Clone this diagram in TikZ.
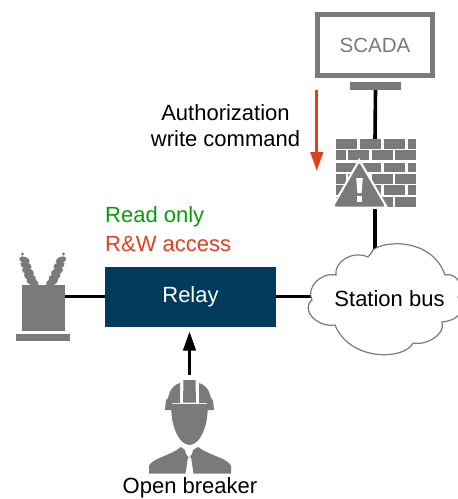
\documentclass[tikz,border=0pt]{standalone}
\usepackage{fontspec}
\setmainfont{Liberation Sans}
\definecolor{icon}{HTML}{7A7A7A}
\definecolor{relayblue}{HTML}{003A5D}
\definecolor{alert}{HTML}{E0401F}
\definecolor{okgreen}{HTML}{0A9A0A}
\usetikzlibrary{arrows.meta}
\tikzset{
 label/.style={font=\fontsize{22}{26}\selectfont,inner sep=0pt,anchor=center,align=center},
 wire/.style={line width=3.6pt,black},
 brick/.style={fill=icon,draw=none},
 iconbox/.style={fill=icon,draw=none,inner sep=0pt,minimum width=0,minimum height=0},
 spot/.style={inner sep=0pt,minimum size=0pt}
}
\newcommand{\brickrow}[3]{%
 \foreach \a/\b in {#1}{\fill[brick] (\a,#2) rectangle (\b,#3);}}
\begin{document}
\begin{tikzpicture}[x=1pt,y=-1pt]
\useasboundingbox (0,0) rectangle (458,499);
% wires under the icons
\coordinate (firetop) at (375,139);
\coordinate (firebot) at (375,206);
\coordinate (xfmrR) at (65,296.5);
\coordinate (cloudL) at (312,296.5);
\coordinate (cloudT) at (375,252);
\node[draw=none,fill=icon,inner sep=0pt,minimum width=51pt,minimum height=8pt] (stand) at (375.5,86) {};
\node[fill=relayblue,text=white,font=\fontsize{22}{26}\selectfont,inner sep=0pt,minimum width=171pt,minimum height=60pt] (relay) at (190.5,297) {Relay};
\draw[wire] (stand.south) -- (firetop);
\draw[wire] (firebot) -- (cloudT);
\draw[wire] (xfmrR) -- (relay.west|-xfmrR);
\draw[wire] (relay.east|-cloudL) -- (cloudL);
% SCADA
\node[draw=icon,line width=5pt,fill=white,text=icon,font=\fontsize{20.5}{24}\selectfont,inner sep=0pt,minimum width=115pt,minimum height=61pt] (scada) at (375,45) {SCADA};
% firewall
\brickrow{336/357,360/381,384/405,408/416}{139.3}{148.7}
\brickrow{336/346,348/369,372/393,395/416}{150}{160}
\brickrow{336/357,360/381,384/405,408/416}{162.7}{171.7}
\brickrow{336/346,348/369,372/393,395/416}{174}{184}
\brickrow{336/357,360/381,384/405,408/416}{185.3}{194.7}
\brickrow{336/346,348/369,372/393,395/416}{196.7}{206.7}
\fill[white] (359.3,158) -- (389,209) -- (330,209) -- cycle;
\fill[icon,rounded corners=2pt] (359.3,162.5) -- (385,206.5) -- (334,206.5) -- cycle;
\fill[white] (356.2,178) -- (362.8,178) -- (361.6,193) -- (357.4,193) -- cycle;
\fill[white] (356.6,195.5) rectangle (362.4,201.5);
% red arrow
\coordinate (redA) at (316.8,90);
\coordinate (redB) at (316.8,171);
\draw[alert,line width=2.8pt,-{Triangle[length=19pt,width=12.5pt]}] (redA) -- (redB);
% transformer
\fill[icon] (22,285) rectangle (65,330.7);
\fill[icon] (16,334) rectangle (70,341);
\foreach \t/\xx/\yy/\w in {0/32.5/282/6.5,1/30/277/6.5,2/28/271.5/6.5,3/26/265.5/6,4/24.5/260/5.5}{
 \fill[icon,rotate around={-22:(\xx,\yy)}] (\xx,\yy) ellipse (\w pt and 3.3pt);}
\foreach \t/\xx/\yy/\w in {0/53,1/55.5,2/57.5,3/59.5,4/61}{}
\foreach \xx/\yy/\w in {52/282/6.5,54.5/277/6.5,57/271.5/6.5,59/265.5/6,61/260/5.5}{
 \fill[icon,rotate around={22:(\xx,\yy)}] (\xx,\yy) ellipse (\w pt and 3.3pt);}
\fill[icon] (22.5,254) circle (1.6pt);
\fill[icon] (63.5,254) circle (1.6pt);
% cloud
\draw[icon,line width=1.2pt,fill=white] (373,250)
 .. controls (385,240) and (432,238) .. (445,275)
 .. controls (455,272) and (466,285) .. (458,297)
 .. controls (466,305) and (463,320) .. (442,322)
 .. controls (446,335) and (425,346) .. (413,343)
 .. controls (405,360) and (350,362) .. (335,325)
 .. controls (318,328) and (300,310) .. (312,300)
 .. controls (306,288) and (320,272) .. (336,275)
 .. controls (334,262) and (352,250) .. (368,257)
 .. controls (370,255) and (372,252) .. (373,250) -- cycle;
\node[label] (bus) at (389.5,299) {Station bus};
% person
\coordinate (perTop) at (189.5,375);
\coordinate (arrTip) at (189.5,331.5);
\draw[black,line width=2.8pt,-{Triangle[length=19pt,width=12.5pt]}] (perTop) -- (arrTip);
\fill[icon] (183.5,380) -- (195.5,380) -- (196,402.7) -- (183,402.7) -- cycle;
\fill[icon] (180,383) .. controls (170,386) and (169,395) .. (168,398) -- (166,400) -- (165,410) -- (172,410) -- (172,403) -- (180,403) -- cycle;
\fill[icon] (199,383) .. controls (209,386) and (210,395) .. (211,398) -- (213,400) -- (214,410) -- (207,410) -- (207,403) -- (199,403) -- cycle;
\fill[icon] (171.5,404) -- (207.5,404) .. controls (209,425) and (200,445) .. (189.5,445) .. controls (179,445) and (170,425) .. (171.5,404) -- cycle;
\fill[icon] (181,447) -- (185,450) -- (186,454) -- (189,458) -- (192,454) -- (193,450) -- (198,447)
 .. controls (210,456) and (228,458) .. (231,466) -- (231,473.5) -- (193.5,473.5) -- (191,457) -- (188,457) -- (185.5,473.5) -- (149,473.5) -- (149,466)
 .. controls (152,458) and (170,456) .. (181,447) -- cycle;
\node[label] (open) at (190,488) {Open breaker};
% labels
\node[label] (auth) at (225.5,126) {Authorization\\write command};
\node[label,anchor=west,text=okgreen] (read) at (105,217) {Read only};
\node[label,anchor=west,text=alert] (rw) at (105,244) {R\&W access};
\end{tikzpicture}
\end{document}
